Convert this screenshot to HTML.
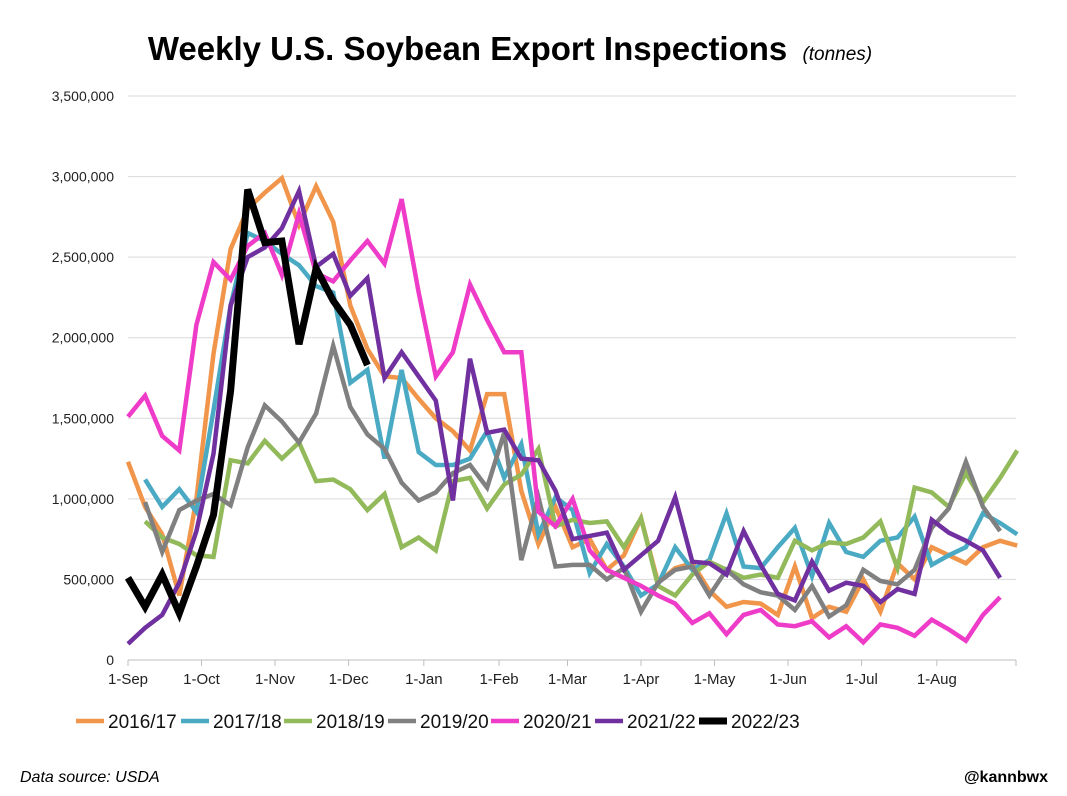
<!DOCTYPE html>
<html><head><meta charset="utf-8"><style>
body{margin:0;background:#fff;font-family:"Liberation Sans",Arial,sans-serif}
#wrap{position:relative;width:1067px;height:796px;overflow:hidden}
</style></head><body>
<div id="wrap">
<svg id="svg" width="1067" height="796">
<text x="510" y="60" text-anchor="middle" font-size="33" font-weight="bold">Weekly U.S. Soybean Export Inspections <tspan font-size="19" font-weight="normal" font-style="italic" dx="6">(tonnes)</tspan></text>
<text x="20" y="782" font-size="16" font-style="italic">Data source: USDA</text>
<text x="1048" y="782" text-anchor="end" font-size="16" font-weight="bold">@kannbwx</text>
</svg></div>
<script>
const yTicks=[0,500000,1000000,1500000,2000000,2500000,3000000,3500000];
const xLabels=["1-Sep","1-Oct","1-Nov","1-Dec","1-Jan","1-Feb","1-Mar","1-Apr","1-May","1-Jun","1-Jul","1-Aug"];
const xLabelWeeks=[0,4.3,8.6,12.9,17.3,21.7,25.7,30,34.3,38.6,42.9,47.3];
const seasons=["2016/17","2017/18","2018/19","2019/20","2020/21","2021/22","2022/23"];
const colors=["#f0954a","#4aaac4","#92b95a","#808080","#ee3cc8","#7030a0","#000000"];
const starts=[0,1,1,1,0,0,0];
const s1617=[1230,950,780,400,1000,1900,2550,2800,2900,2990,2700,2940,2720,2200,1930,1760,1750,1620,1500,1420,1300,1650,1650,1050,720,950,700,750,560,650,880,480,570,600,430,330,360,350,280,580,260,330,300,500,300,600,500,700,650,600,700,740,710];
const s1718=[1120,950,1060,920,1550,2200,2650,2600,2520,2450,2320,2280,1720,1800,1250,1800,1290,1210,1210,1250,1420,1130,1340,780,1010,930,540,720,580,400,470,700,560,620,910,580,570,700,820,520,850,670,640,740,760,890,590,650,700,910,850,780];
const s1819=[860,760,720,650,640,1240,1220,1360,1250,1350,1110,1120,1060,930,1030,700,760,680,1110,1130,940,1090,1150,1310,830,870,850,860,700,880,460,400,530,610,560,510,530,510,740,680,730,720,760,860,570,1070,1040,950,1160,980,1130,1300];
const s1920=[980,670,930,990,1030,960,1320,1580,1480,1350,1530,1950,1570,1400,1310,1100,990,1040,1160,1210,1070,1410,620,1010,580,590,590,500,570,300,480,560,580,400,560,470,420,400,310,460,270,340,560,490,470,560,820,940,1230,950,800];
const s2021=[1510,1640,1390,1300,2080,2470,2360,2570,2650,2390,2770,2400,2350,2480,2600,2460,2860,2280,1760,1910,2330,2110,1910,1910,920,830,1000,680,560,510,460,400,350,230,290,160,280,310,220,210,240,140,210,110,220,200,150,250,190,120,280,390];
const s2122=[100,200,280,480,800,1280,2200,2500,2560,2680,2910,2440,2520,2260,2370,1750,1910,1760,1610,990,1870,1410,1430,1250,1240,1050,750,770,790,560,650,740,1010,610,600,530,800,590,410,370,610,430,480,460,360,440,410,870,790,740,680,510];
const s2223=[510,330,530,290,580,900,1670,2920,2590,2600,1960,2430,2230,2080,1830];
const allSeries=[s1617,s1718,s1819,s1920,s2021,s2122,s2223];
const svg=document.getElementById('svg');const NS='http://www.w3.org/2000/svg';
const X0=128,XW=17.1,Y0=660,YT=96,YMAX=3500000;
const xs=w=>X0+w*XW;const ys=v=>Y0-(v/YMAX)*(Y0-YT);
function mk(t,a){const e=document.createElementNS(NS,t);for(const k in a)e.setAttribute(k,a[k]);svg.appendChild(e);return e;}
yTicks.forEach(v=>{
 const g=mk('line',{x1:X0,x2:1016,y1:ys(v),y2:ys(v),stroke:v?'#d9d9d9':'#bfbfbf','stroke-width':1});
 
 
 const t=mk('text',{x:114,y:ys(v)+5,'text-anchor':'end','font-size':14,fill:'#222'});t.textContent=v.toLocaleString('en-US');
 
 
});
xLabels.forEach((l,i)=>{
 const x=xs(xLabelWeeks[i]);
 const tk=mk('line',{x1:x,x2:x,y1:Y0,y2:Y0+6,stroke:'#bfbfbf'});
 
 
 const t=mk('text',{x:x,y:Y0+24,'text-anchor':'middle','font-size':15,fill:'#222'});t.textContent=l;
 
 
});
const ek=mk('line',{x1:1016,x2:1016,y1:Y0,y2:Y0+6,stroke:'#bfbfbf'});


allSeries.forEach((s,k)=>{
 const pts=s.map((v,i)=>xs(starts[k]+i).toFixed(1)+','+ys(v*1000).toFixed(1)).join(' ');
 const p=mk('polyline',{points:pts,fill:'none',stroke:colors[k],'stroke-width':k==6?7:4.5,'stroke-linejoin':'miter'});
 
 
});
const lx=[76,181,284,388,491,595,699];
seasons.forEach((s,k)=>{
 const l=mk('line',{x1:lx[k],x2:lx[k]+28,y1:721,y2:721,stroke:colors[k],'stroke-width':k==6?7:4.5});
 
 
 const t=mk('text',{x:lx[k]+32,y:728,'font-size':19,fill:'#111'});t.textContent=s;
 
 
});
</script></body></html>
